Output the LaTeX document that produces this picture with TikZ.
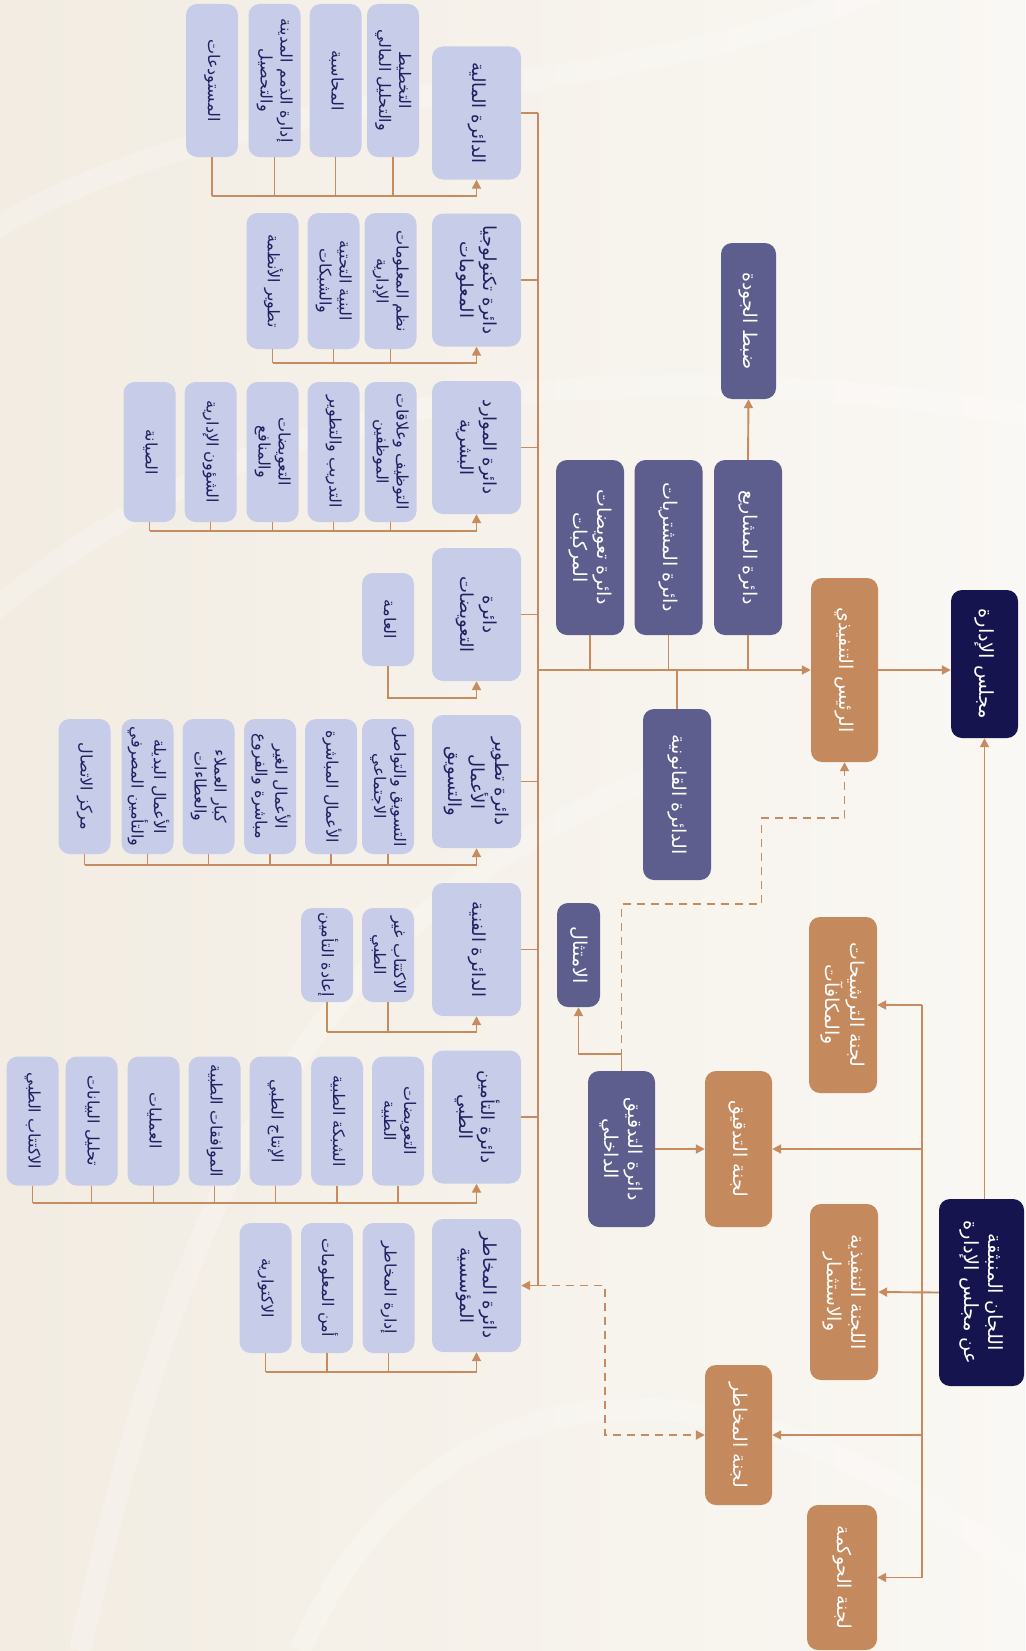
\documentclass[tikz,border=0pt]{standalone}
\usepackage{fontspec}
\usepackage{graphicx}
\usetikzlibrary{arrows.meta}
\TeXXeTstate=1
\newfontfamily\arabicfont[Script=Arabic]{DejaVu Sans}
\newcommand\arl[1]{\beginR #1\endR}
\newcommand\T[1]{\rotatebox{-90}{\begin{tabular}{@{}c@{}}#1\end{tabular}}}
\definecolor{bgA}{HTML}{F2ECE2}
\definecolor{bgB}{HTML}{FAF8F4}
\definecolor{lav}{HTML}{C7CCE8}
\definecolor{navytext}{HTML}{1F2060}
\definecolor{purp}{HTML}{5D5E8D}
\definecolor{tanc}{HTML}{C4895D}
\definecolor{navyc}{HTML}{15144F}
\definecolor{linec}{HTML}{C68C60}
\tikzset{
  base/.style={rounded corners=11pt, inner sep=0pt, align=center},
  dept/.style={base, fill=lav, text=navytext, minimum width=89pt, minimum height=133pt, font=\fontsize{18}{22.5}\selectfont\arabicfont},
  sub/.style={base, fill=lav, text=navytext, minimum width=52pt, font=\fontsize{16}{20}\selectfont\arabicfont},
  pbox/.style={base, fill=purp, text=white, font=\fontsize{19}{24}\selectfont\arabicfont},
  obox/.style={base, fill=tanc, text=white, font=\fontsize{19}{24}\selectfont\arabicfont},
  nbox/.style={base, fill=navyc, text=white, font=\fontsize{19.5}{24}\selectfont\arabicfont},
  conn/.style={draw=linec, line width=1.9pt},
  arr/.style={conn, -{Triangle[length=9pt,width=9pt]}},
  dashline/.style={dash pattern=on 8pt off 6pt},
}
\begin{document}
\begin{tikzpicture}[x=1pt,y=-1pt]
\useasboundingbox (0,0) rectangle (1025,1651);
\shade[left color=bgA, right color=bgB] (0,0) rectangle (1025,1651);
\begin{scope}[white, opacity=0.22, line width=22pt]
  \draw (-40,250) .. controls (250,60) and (600,120) .. (900,-20);
  \draw (-40,640) .. controls (200,420) and (520,330) .. (1060,420);
  \draw (80,1651) .. controls (180,1200) and (300,900) .. (700,760);
  \draw (300,1651) .. controls (420,1380) and (700,1300) .. (1060,1600);
\end{scope}

% ---- board and committees
\node[nbox, minimum width=67pt, minimum height=148pt] (board) at (984.5,664) {\T{\arl{مجلس الإدارة}}};
\node[nbox, minimum width=85pt, minimum height=187pt] (comm) at (981.5,1292.5) {\T{\arl{اللجان المنبثقة}\\\arl{عن مجلس الإدارة}}};
\node[obox, minimum width=67pt, minimum height=184pt] (ceo) at (844.5,670) {\T{\arl{الرئيس التنفيذي}}};
\node[obox, minimum width=68pt, minimum height=176pt] (nom) at (843,1005) {\T{\arl{لجنة الترشيحات}\\\arl{والمكافآت}}};
\node[obox, minimum width=67pt, minimum height=156pt] (ac) at (738.5,1149) {\T{\arl{لجنة التدقيق}}};
\node[obox, minimum width=68pt, minimum height=176pt] (exec) at (844,1292) {\T{\arl{اللجنة التنفيذية}\\\arl{والاستثمار}}};
\node[obox, minimum width=67pt, minimum height=140pt] (rc) at (738.5,1435) {\T{\arl{لجنة المخاطر}}};
\node[obox, minimum width=70pt, minimum height=145pt] (gov) at (842,1577.5) {\T{\arl{لجنة الحوكمة}}};

% ---- purple departments
\node[pbox, minimum width=55pt, minimum height=156pt] (qual) at (748.5,321) {\T{\arl{ضبط الجودة}}};
\node[pbox, minimum width=68pt, minimum height=175pt] (proj) at (748,547.5) {\T{\arl{دائرة المشاريع}}};
\node[pbox, minimum width=68pt, minimum height=175pt] (proc) at (668.5,547.5) {\T{\arl{دائرة المشتريات}}};
\node[pbox, minimum width=68pt, minimum height=175pt] (veh) at (590,547.5) {\T{\arl{دائرة تعويضات}\\\arl{المركبات}}};
\node[pbox, minimum width=68pt, minimum height=171pt] (legal) at (677,794.5) {\T{\arl{الدائرة القانونية}}};
\node[pbox, minimum width=43pt, minimum height=104pt] (compl) at (578.5,955) {\T{\arl{الامتثال}}};
\node[pbox, minimum width=67pt, minimum height=156pt] (ia) at (621.5,1149) {\T{\arl{دائرة التدقيق}\\\arl{الداخلي}}};

% ---- lavender departments
\node[dept] (fin) at (476.5,113) {\T{\arl{الدائرة المالية}}};
\node[dept] (it) at (476.5,280) {\T{\arl{دائرة تكنولوجيا}\\\arl{المعلومات}}};
\node[dept] (hr) at (476.5,447.5) {\T{\arl{دائرة الموارد}\\\arl{البشرية}}};
\node[dept] (comp) at (476.5,614.5) {\T{\arl{دائرة}\\\arl{التعويضات}}};
\node[dept] (bd) at (476.5,781.5) {\T{\arl{دائرة تطوير}\\\arl{الأعمال}\\\arl{والتسويق}}};
\node[dept] (tech) at (476.5,949.5) {\T{\arl{الدائرة الفنية}}};
\node[dept] (med) at (476.5,1117) {\T{\arl{دائرة التأمين}\\\arl{الطبي}}};
\node[dept] (risk) at (476.5,1285.5) {\T{\arl{دائرة المخاطر}\\\arl{المؤسسية}}};

% ---- financial children
\begin{scope}[every node/.append style={minimum height=153pt}]
\node[sub] (f1) at (393,80.5) {\T{\arl{التخطيط}\\\arl{والتحليل المالي}}};
\node[sub] (f2) at (335.5,80.5) {\T{\arl{المحاسبة}}};
\node[sub] (f3) at (274.5,80.5) {\T{\arl{إدارة الذمم المدينة}\\\arl{والتحصيل}}};
\node[sub] (f4) at (212,80.5) {\T{\arl{المستودعات}}};
\end{scope}
% ---- IT children
\begin{scope}[every node/.append style={minimum height=136pt}]
\node[sub] (i1) at (390.5,281) {\T{\arl{نظم المعلومات}\\\arl{الإدارية}}};
\node[sub] (i2) at (333.5,281) {\T{\arl{البنية التحتية}\\\arl{والشبكات}}};
\node[sub] (i3) at (272.5,281) {\T{\arl{تطوير الأنظمة}}};
\end{scope}
% ---- HR children
\begin{scope}[every node/.append style={minimum height=140pt}]
\node[sub] (h1) at (390.5,452) {\T{\arl{التوظيف وعلاقات}\\\arl{الموظفين}}};
\node[sub] (h2) at (333.5,452) {\T{\arl{التدريب والتطوير}}};
\node[sub] (h3) at (272.5,452) {\T{\arl{التعويضات}\\\arl{والمنافع}}};
\node[sub] (h4) at (210.5,452) {\T{\arl{الشؤون الإدارية}}};
\node[sub] (h5) at (149.5,452) {\T{\arl{الصيانة}}};
\end{scope}
% ---- compensation child
\node[sub, minimum height=93pt] (c1) at (388,619.5) {\T{\arl{العامة}}};
% ---- BD children
\begin{scope}[every node/.append style={minimum height=135pt}]
\node[sub] (b1) at (388,786.5) {\T{\arl{التسويق والتواصل}\\\arl{الاجتماعي}}};
\node[sub] (b2) at (331,786.5) {\T{\arl{الأعمال المباشرة}}};
\node[sub] (b3) at (270,786.5) {\T{\arl{الأعمال الغير}\\\arl{مباشرة والفروع}}};
\node[sub] (b4) at (208.5,786.5) {\T{\arl{كبار العملاء}\\\arl{والعطاءات}}};
\node[sub] (b5) at (147.5,786.5) {\T{\arl{الأعمال البديلة}\\\arl{والتأمين المصرفي}}};
\node[sub] (b6) at (84.5,786.5) {\T{\arl{مركز الاتصال}}};
\end{scope}
% ---- technical children
\begin{scope}[every node/.append style={minimum height=94pt}]
\node[sub] (t1) at (388,955) {\T{\arl{الاكتتاب غير}\\\arl{الطبي}}};
\node[sub] (t2) at (327,955) {\T{\arl{إعادة التأمين}}};
\end{scope}
% ---- medical children
\begin{scope}[every node/.append style={minimum height=129pt}]
\node[sub] (m1) at (398,1121) {\T{\arl{التعويضات}\\\arl{الطبية}}};
\node[sub] (m2) at (337,1121) {\T{\arl{الشبكة الطبية}}};
\node[sub] (m3) at (275.5,1121) {\T{\arl{الإنتاج الطبي}}};
\node[sub] (m4) at (214.5,1121) {\T{\arl{الموافقات الطبية}}};
\node[sub] (m5) at (153.5,1121) {\T{\arl{العمليات}}};
\node[sub] (m6) at (91.5,1121) {\T{\arl{تحليل البيانات}}};
\node[sub] (m7) at (32.5,1121) {\T{\arl{الاكتتاب الطبي}}};
\end{scope}
% ---- risk children
\begin{scope}[every node/.append style={minimum height=130pt}]
\node[sub] (r1) at (388.5,1288) {\T{\arl{إدارة المخاطر}}};
\node[sub] (r2) at (327,1288) {\T{\arl{أمن المعلومات}}};
\node[sub] (r3) at (265.5,1288) {\T{\arl{الاكتوارية}}};
\end{scope}

% ---- coordinates
\coordinate (tr) at (538,670);
\coordinate (ct) at (922,1292);
\coordinate (fb) at (0,196);
\coordinate (ib) at (0,363);
\coordinate (hb) at (0,531);
\coordinate (cb) at (0,698);
\coordinate (bb) at (0,865);
\coordinate (tb) at (0,1032);
\coordinate (mb) at (0,1203);
\coordinate (rb) at (0,1372);

% ---- trunk and main line
\draw[conn] (fin.east -| tr) -- (risk.east -| tr);
\foreach \d in {fin,it,hr,comp,bd,tech,med}{\draw[conn] (\d.east) -- (\d.east -| tr);}
\draw[arr] (risk.east -| tr) -- (risk.east);
\draw[arr] (tr) -- (ceo.west);
\draw[arr] (ceo.east) -- (ceo.east -| board.west);
\draw[arr] (comm.north -| board.south) -- (board.south);
\foreach \d in {proj,proc,veh}{\draw[conn] (\d.south) -- (\d.south |- tr);}
\draw[conn] (legal.north |- tr) -- (legal.north);
\draw[arr] (proj.north) -- (qual.south);

% ---- children buses
\foreach \c in {f1,f2,f3,f4}{\draw[conn] (\c.south) -- (\c.south |- fb);}
\draw[arr] (f4.south |- fb) -- (fin.south |- fb) -- (fin.south);
\foreach \c in {i1,i2,i3}{\draw[conn] (\c.south) -- (\c.south |- ib);}
\draw[arr] (i3.south |- ib) -- (it.south |- ib) -- (it.south);
\foreach \c in {h1,h2,h3,h4,h5}{\draw[conn] (\c.south) -- (\c.south |- hb);}
\draw[arr] (h5.south |- hb) -- (hr.south |- hb) -- (hr.south);
\draw[arr] (c1.south) -- (c1.south |- cb) -- (comp.south |- cb) -- (comp.south);
\foreach \c in {b1,b2,b3,b4,b5,b6}{\draw[conn] (\c.south) -- (\c.south |- bb);}
\draw[arr] (b6.south |- bb) -- (bd.south |- bb) -- (bd.south);
\foreach \c in {t1,t2}{\draw[conn] (\c.south) -- (\c.south |- tb);}
\draw[arr] (t2.south |- tb) -- (tech.south |- tb) -- (tech.south);
\foreach \c in {m1,m2,m3,m4,m5,m6,m7}{\draw[conn] (\c.south) -- (\c.south |- mb);}
\draw[arr] (m7.south |- mb) -- (med.south |- mb) -- (med.south);
\foreach \c in {r1,r2,r3}{\draw[conn] (\c.south) -- (\c.south |- rb);}
\draw[arr] (r3.south |- rb) -- (risk.south |- rb) -- (risk.south);

% ---- internal audit
\draw[arr] (ia.east) -- (ac.west);
\draw[arr] (ia.north) -- ++(0,-17) -| (compl.south);
\draw[arr, dashline] (ia.north) -- ++(0,-167) -- ++(140,0) -- ++(0,-86) -| (ceo.south);

% ---- committees
\draw[conn] (nom.east -| ct) -- (gov.east -| ct);
\draw[arr] (comm.west) -- (exec.east);
\draw[arr] (nom.east -| ct) -- (nom.east);
\draw[arr] (ac.east -| ct) -- (ac.east);
\draw[arr] (rc.east -| ct) -- (rc.east);
\draw[arr] (gov.east -| ct) -- (gov.east);
\draw[arr, dashline] (risk.east -| tr) -- ++(67,0) |- (rc.west);
\end{tikzpicture}
\end{document}
